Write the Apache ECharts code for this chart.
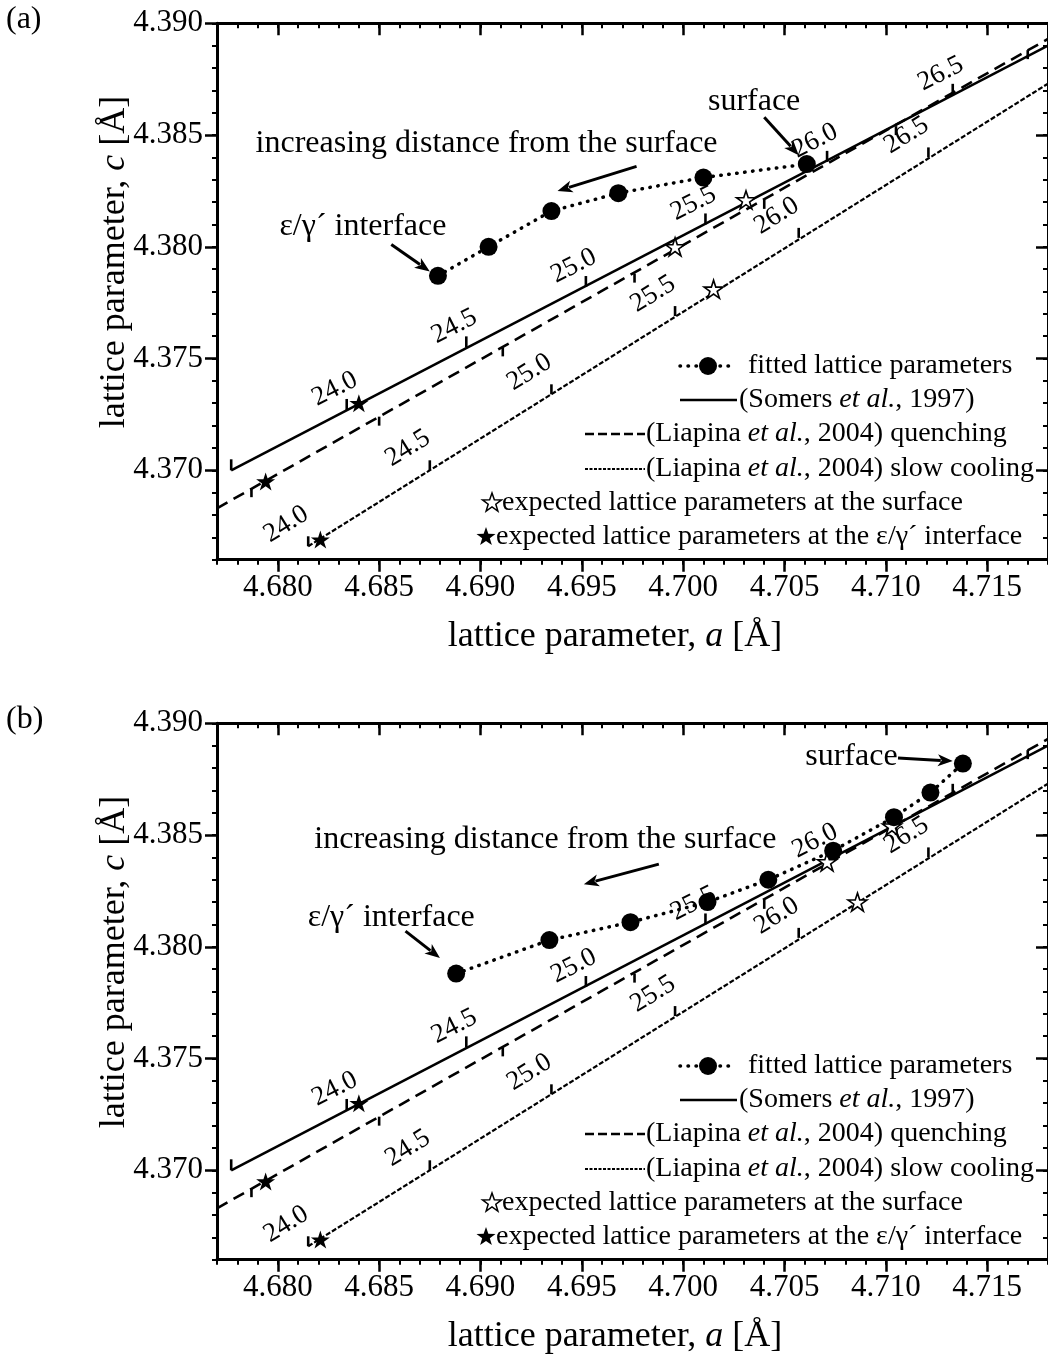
<!DOCTYPE html>
<html><head><meta charset="utf-8">
<script src="https://cdn.jsdelivr.net/npm/echarts@6/dist/echarts.min.js"></script>
<style>html,body{margin:0;padding:0;background:#fff}#c{width:1048px;height:1358px}</style>
</head><body><div id="c"></div>
<script>
// ---------- axes ----------
const aMin = 4.677, aMax = 4.718;
const cMin = 4.366, cMax = 4.390;
const aMajorTicks = [4.680, 4.685, 4.690, 4.695, 4.700, 4.705, 4.710, 4.715];
const cMajorTicks = [4.370, 4.375, 4.380, 4.385, 4.390];

// ---------- data ----------
const fittedA = [[4.6879,4.3787],[4.6904,4.3800],[4.6935,4.3816],[4.6968,4.3824],[4.7010,4.3831],[4.7061,4.3837]];
const fittedB = [[4.6888,4.3788],[4.6934,4.3803],[4.6974,4.3811],[4.7012,4.3820],[4.7042,4.3830],[4.7074,4.3843],[4.7104,4.3858],[4.7122,4.3869],[4.7138,4.3882]];
const somersLine = [[4.6777,4.3700],[4.7180,4.3890]];
const quenchLine = [[4.6770,4.3683],[4.7180,4.3893]];
const slowLine   = [[4.6815,4.3666],[4.7180,4.3873]];
const somersTicks = [[4.6777,4.3700,''],[4.6834,4.3727,'24.0'],[4.6893,4.3755,'24.5'],[4.6952,4.3782,'25.0'],[4.7011,4.3810,'25.5'],[4.7071,4.3838,'26.0'],[4.7133,4.3868,'26.5']];
const quenchTicks = [[4.6787,4.3692],[4.6850,4.3724],[4.6911,4.3755],[4.6976,4.3788],[4.7040,4.3821],[4.7105,4.3854],[4.7170,4.3888]];
const slowTicks = [[4.6815,4.3666,'24.0'],[4.6875,4.3700,'24.5'],[4.6935,4.3734,'25.0'],[4.6996,4.3769,'25.5'],[4.7057,4.3804,'26.0'],[4.7121,4.3840,'26.5']];
const somersHiddenB = ['26.5'];
const surfaceStarsA = [[4.7031,4.3821],[4.6996,4.3800],[4.7015,4.3781]];
const surfaceStarsB = [[4.7103,4.3854],[4.7071,4.3838],[4.7086,4.3820]];
const interfaceStars = [[4.6840,4.3730],[4.6794,4.3695],[4.6821,4.3669]];

// annotations (data coordinates)
const annTextA = [[4.7035,4.3865,'surface'],[4.6903,4.3846,'increasing distance from the surface'],[4.6842,4.3809,'ε/γ´ interface']];
const annArrowA = [[4.7040,4.3858,4.7057,4.3841],[4.6977,4.3836,4.6938,4.3825],[4.6856,4.3801,4.6875,4.3789]];
const annTextB = [[4.7083,4.3885,'surface'],[4.6932,4.3848,'increasing distance from the surface'],[4.6856,4.3813,'ε/γ´ interface']];
const annArrowB = [[4.7106,4.38845,4.7133,4.38831],[4.6988,4.3837,4.6951,4.3828],[4.6863,4.3807,4.6880,4.3795]];

const legendRows = ['fitted lattice parameters','(Somers {i|et al.}, 1997)','(Liapina {i|et al.}, 2004) quenching','(Liapina {i|et al.}, 2004) slow cooling','expected lattice parameters at the surface','expected lattice parameters at the ε/γ´ interface'];

// ---------- style ----------
const F = 'Liberation Serif';
const BLACK = '#000';
const GRID_LEFT = 217, GRID_W = 836.4, GRID_H = 536.4;
const GRID_TOPS = [23.3, 723.3];
const STAR = 'path://M50 0 L61.2 34.5 L97.6 34.5 L68.2 55.9 L79.4 90.5 L50 69.1 L20.6 90.5 L31.8 55.9 L2.4 34.5 L38.8 34.5 Z';

function xAxes(gi){
  const base = {gridIndex:gi, type:'value', min:aMin, max:aMax, splitLine:{show:false}};
  return [
    Object.assign({}, base, {position:'bottom', interval:0.001, axisLine:{show:true,onZero:false,lineStyle:{color:BLACK,width:3}}, axisTick:{show:true,inside:false,length:5,lineStyle:{color:BLACK,width:2}}, axisLabel:{show:false}}),
    Object.assign({}, base, {position:'bottom', axisLine:{show:false,onZero:false}, axisTick:{show:true,inside:false,length:12,customValues:aMajorTicks,lineStyle:{color:BLACK,width:2.5}}, axisLabel:{show:true,customValues:aMajorTicks,formatter:v=>v.toFixed(3),fontFamily:F,fontSize:31,color:BLACK,margin:13}}),
    Object.assign({}, base, {position:'top', interval:0.001, axisLine:{show:true,onZero:false,lineStyle:{color:BLACK,width:3}}, axisTick:{show:true,inside:true,length:5,lineStyle:{color:BLACK,width:2}}, axisLabel:{show:false}}),
    Object.assign({}, base, {position:'top', axisLine:{show:false,onZero:false}, axisTick:{show:true,inside:true,length:12,customValues:aMajorTicks,lineStyle:{color:BLACK,width:2.5}}, axisLabel:{show:false}})
  ];
}
function yAxes(gi){
  const base = {gridIndex:gi, type:'value', min:cMin, max:cMax, splitLine:{show:false}};
  return [
    Object.assign({}, base, {position:'left', interval:0.001, axisLine:{show:true,onZero:false,lineStyle:{color:BLACK,width:3}}, axisTick:{show:true,inside:false,length:5,lineStyle:{color:BLACK,width:2}}, axisLabel:{show:false}}),
    Object.assign({}, base, {position:'left', axisLine:{show:false,onZero:false}, axisTick:{show:true,inside:false,length:12,customValues:cMajorTicks,lineStyle:{color:BLACK,width:2.5}}, axisLabel:{show:true,customValues:cMajorTicks,formatter:v=>v.toFixed(3),fontFamily:F,fontSize:31,color:BLACK,margin:14}}),
    Object.assign({}, base, {position:'right', interval:0.001, axisLine:{show:true,onZero:false,lineStyle:{color:BLACK,width:3}}, axisTick:{show:true,inside:true,length:5,lineStyle:{color:BLACK,width:2}}, axisLabel:{show:false}}),
    Object.assign({}, base, {position:'right', axisLine:{show:false,onZero:false}, axisTick:{show:true,inside:true,length:12,customValues:cMajorTicks,lineStyle:{color:BLACK,width:2.5}}, axisLabel:{show:false}})
  ];
}

function lineSeries(gi, data, lineStyle, z){
  return {type:'line', xAxisIndex:gi*4, yAxisIndex:gi*4, data:data, symbol:'none', lineStyle:Object.assign({color:BLACK, opacity:1}, lineStyle), z:z||3, silent:true, animation:false};
}
function tickSeries(gi, arr, dir, len, off, rotDeg, hidden){
  return {type:'custom', xAxisIndex:gi*4, yAxisIndex:gi*4, coordinateSystem:'cartesian2d', data:arr.map(d=>[d[0],d[1]]), clip:false, silent:true, z:6,
    renderItem:(params, api)=>{
      const p = api.coord([api.value(0), api.value(1)]);
      const lab = arr[params.dataIndex][2];
      const ch = [{type:'line', shape:{x1:p[0],y1:p[1],x2:p[0],y2:p[1]+dir*len}, style:{stroke:BLACK,lineWidth:2.6}}];
      if (lab && !(hidden||[]).includes(lab)) {
        ch.push({type:'text', x:p[0]+off[0], y:p[1]+off[1], rotation:rotDeg*Math.PI/180,
          style:{text:lab, fontFamily:F, fontSize:27, fill:BLACK, align:'center', verticalAlign:'middle'}});
      }
      return {type:'group', children:ch};
    }};
}
function starSeries(gi, data, filled){
  return {type:'scatter', xAxisIndex:gi*4, yAxisIndex:gi*4, data:data, symbol:STAR, symbolSize:[19,18], z:8, silent:true,
    itemStyle: filled ? {color:BLACK, opacity:1} : {color:'#fff', borderColor:BLACK, borderWidth:1.6, opacity:1}};
}
function fittedSeries(gi, data){
  return {type:'line', xAxisIndex:gi*4, yAxisIndex:gi*4, data:data, symbol:'circle', symbolSize:18, showAllSymbol:true, z:9, silent:true,
    itemStyle:{color:BLACK, opacity:1}, lineStyle:{color:BLACK, width:3.5, type:[0.5,7.5], cap:'round'}};
}
function annTextSeries(gi, arr){
  return {type:'custom', xAxisIndex:gi*4, yAxisIndex:gi*4, coordinateSystem:'cartesian2d', data:arr.map(d=>[d[0],d[1]]), clip:false, silent:true, z:10,
    renderItem:(params, api)=>{
      const p = api.coord([api.value(0), api.value(1)]);
      return {type:'text', x:p[0], y:p[1], style:{text:arr[params.dataIndex][2], fontFamily:F, fontSize:32, fill:BLACK, align:'center', verticalAlign:'middle'}};
    }};
}
function annArrowSeries(gi, arr){
  return {type:'custom', xAxisIndex:gi*4, yAxisIndex:gi*4, coordinateSystem:'cartesian2d', data:arr, clip:false, silent:true, z:10,
    renderItem:(params, api)=>{
      const p1 = api.coord([api.value(0), api.value(1)]);
      const p2 = api.coord([api.value(2), api.value(3)]);
      const dx = p2[0]-p1[0], dy = p2[1]-p1[1], L = Math.hypot(dx,dy);
      const ux = dx/L, uy = dy/L, hl = 15, hw = 6;
      const bx = p2[0]-ux*hl, by = p2[1]-uy*hl;
      return {type:'group', children:[
        {type:'line', shape:{x1:p1[0],y1:p1[1],x2:bx+ux*3,y2:by+uy*3}, style:{stroke:BLACK,lineWidth:3}},
        {type:'polygon', shape:{points:[[p2[0],p2[1]],[bx-uy*hw,by+ux*hw],[bx+ux*4,by+uy*4],[bx+uy*hw,by-ux*hw]]}, style:{fill:BLACK}}
      ]};
    }};
}

function starPoints(cx, cy, R){
  const pts = [], r = R*0.4;
  for (let k=0;k<10;k++){
    const ang = -Math.PI/2 + k*Math.PI/5, rr = (k%2===0)?R:r;
    pts.push([cx+rr*Math.cos(ang), cy+rr*Math.sin(ang)]);
  }
  return pts;
}
const rich = {i:{fontStyle:'italic', fontFamily:F, fontSize:28, fill:BLACK}};
function legendGraphics(oy){
  const ys = [366,400,434,469,503,537].map(v=>v+oy);
  const t = (x,y,s)=>({type:'text', x:x, y:y, style:{text:s, fontFamily:F, fontSize:28, fill:BLACK, align:'left', verticalAlign:'middle', rich:rich}});
  return [
    {type:'line', shape:{x1:680,y1:ys[0],x2:736,y2:ys[0]}, style:{stroke:BLACK,lineWidth:3.5,lineDash:[0.5,7.5],lineCap:'round'}},
    {type:'circle', shape:{cx:708,cy:ys[0],r:9}, style:{fill:BLACK}},
    t(748, ys[0], legendRows[0]),
    {type:'line', shape:{x1:680,y1:ys[1],x2:737,y2:ys[1]}, style:{stroke:BLACK,lineWidth:2.5}},
    t(739, ys[1], legendRows[1]),
    {type:'line', shape:{x1:585,y1:ys[2],x2:645,y2:ys[2]}, style:{stroke:BLACK,lineWidth:2.5,lineDash:[9,4]}},
    t(646, ys[2], legendRows[2]),
    {type:'line', shape:{x1:585,y1:ys[3],x2:645,y2:ys[3]}, style:{stroke:BLACK,lineWidth:2,lineDash:[3,1.5]}},
    t(646, ys[3], legendRows[3]),
    {type:'polygon', shape:{points:starPoints(492, ys[4], 10)}, style:{fill:'#fff', stroke:BLACK, lineWidth:1.5}},
    t(502, ys[4], legendRows[4]),
    {type:'polygon', shape:{points:starPoints(486, ys[5], 10)}, style:{fill:BLACK}},
    t(496, ys[5], legendRows[5])
  ];
}
function titleGraphics(oy, tag){
  return [
    {type:'text', x:6, y:oy+4, style:{text:tag, fontFamily:F, fontSize:32, fill:BLACK, align:'left', verticalAlign:'top'}},
    {type:'text', x:615, y:oy+637, style:{text:'lattice parameter, {a|a} [Å]', fontFamily:F, fontSize:36, fill:BLACK, align:'center', verticalAlign:'middle', rich:{a:{fontStyle:'italic', fontFamily:F, fontSize:36, fill:BLACK}}}},
    {type:'text', x:115, y:oy+262, rotation:Math.PI/2, style:{text:'lattice parameter, {a|c} [Å]', fontFamily:F, fontSize:36, fill:BLACK, align:'center', verticalAlign:'middle', rich:{a:{fontStyle:'italic', fontFamily:F, fontSize:36, fill:BLACK}}}}
  ];
}

const series = [];
[0,1].forEach(gi=>{
  series.push(lineSeries(gi, somersLine, {width:2.6}, 3));
  series.push(lineSeries(gi, quenchLine, {width:2.6, type:[12,7]}, 3));
  series.push(lineSeries(gi, slowLine, {width:2.2, type:[5,2]}, 3));
  series.push(tickSeries(gi, somersTicks, -1, 11, [-12,-21], 27, gi===1?somersHiddenB:[]));
  series.push(tickSeries(gi, quenchTicks.map(d=>[d[0],d[1],'']), 1, 9, [0,0], 0, []));
  series.push(tickSeries(gi, slowTicks, -1, 10, [-22,-22], 32, []));
  series.push(starSeries(gi, gi===0?surfaceStarsA:surfaceStarsB, false));
  series.push(starSeries(gi, interfaceStars, true));
  series.push(fittedSeries(gi, gi===0?fittedA:fittedB));
  series.push(annTextSeries(gi, gi===0?annTextA:annTextB));
  series.push(annArrowSeries(gi, gi===0?annArrowA:annArrowB));
});

const option = {
  animation:false,
  backgroundColor:'#fff',
  textStyle:{fontFamily:F, color:BLACK},
  grid: GRID_TOPS.map(t=>({left:GRID_LEFT, top:t, width:GRID_W, height:GRID_H, containLabel:false})),
  xAxis: xAxes(0).concat(xAxes(1)),
  yAxis: yAxes(0).concat(yAxes(1)),
  series: series,
  graphic: [].concat(legendGraphics(0), legendGraphics(700), titleGraphics(0,'(a)'), titleGraphics(700,'(b)'))
};
const chart = echarts.init(document.getElementById('c'));
chart.setOption(option);
</script></body></html>
